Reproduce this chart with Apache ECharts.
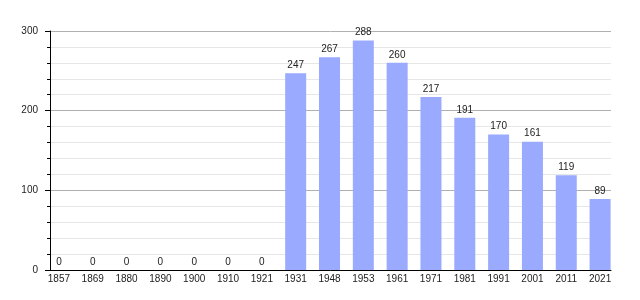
<!DOCTYPE html>
<html>
<head>
<meta charset="utf-8">
<script src="https://cdn.jsdelivr.net/npm/echarts@6/dist/echarts.min.js"></script>
<style>html,body{margin:0;padding:0;background:#fff}#c{width:640px;height:300px}</style>
</head>
<body>
<div id="c"></div>
<script>
const years = ['1857','1869','1880','1890','1900','1910','1921','1931','1948','1953','1961','1971','1981','1991','2001','2011','2021'];
const population = [0,0,0,0,0,0,0,247,267,288,260,217,191,170,161,119,89];
const yMin = 0, yMax = 300, yStep = 100;

const font = "'Liberation Sans', Arial, sans-serif";
const chart = echarts.init(document.getElementById('c'), null, {renderer: 'canvas'});
chart.setOption({
  animation: false,
  textStyle: {fontFamily: font},
  grid: [
    {left: 50, right: 29, top: 31, bottom: 30},
    {left: 42, right: 23, top: 31, bottom: 30}
  ],
  xAxis: [
    {gridIndex: 0, type: 'value', min: 0, max: 1,
      axisLine: {show: true, lineStyle: {color: '#000', width: 1}},
      axisTick: {show: false}, axisLabel: {show: false}, splitLine: {show: false}},
    {gridIndex: 1, type: 'category', data: years,
      axisLine: {show: false}, axisTick: {show: false},
      axisLabel: {fontSize: 10, color: '#222', margin: 4, fontFamily: font, interval: 0}}
  ],
  yAxis: [
    {gridIndex: 0, type: 'value', min: yMin, max: yMax, interval: yStep,
      axisLine: {show: true, lineStyle: {color: '#000', width: 1}},
      axisTick: {show: true, length: 5, lineStyle: {color: '#000'}},
      minorTick: {show: true, splitNumber: 5, length: 3, lineStyle: {color: '#000'}},
      axisLabel: {fontSize: 10, color: '#222', margin: 12, fontFamily: font},
      splitLine: {show: true, lineStyle: {color: '#b0b0b0', width: 1}},
      minorSplitLine: {show: true, lineStyle: {color: '#e6e6e6', width: 1}}},
    {gridIndex: 1, type: 'value', min: yMin, max: yMax, show: false}
  ],
  series: [{
    type: 'bar', xAxisIndex: 1, yAxisIndex: 1,
    data: population, barWidth: 21,
    itemStyle: {color: '#99aaff'},
    label: {show: true, position: 'top', distance: 3, fontSize: 10, color: '#222', fontFamily: font}
  }]
});
</script>
</body>
</html>
